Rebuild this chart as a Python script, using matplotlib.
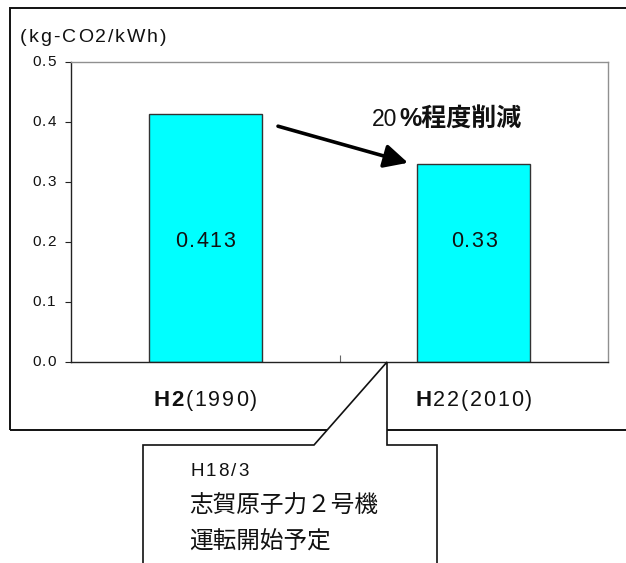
import matplotlib
matplotlib.use("Agg")
import matplotlib.pyplot as plt
from matplotlib.patches import Rectangle, Polygon
from matplotlib.offsetbox import TextArea, HPacker, AnnotationBbox

plt.rcParams['font.family'] = ['Liberation Sans', 'Noto Sans CJK JP', 'DejaVu Sans']

# ---- data ----
categories_bold = ["H2", "H"]
categories_regular = ["(1990)", "22(2010)"]
values = [0.413, 0.33]
value_labels = ["0.413", "0.33"]
yticks = [0.0, 0.1, 0.2, 0.3, 0.4, 0.5]
ytick_labels = ["0.0", "0.1", "0.2", "0.3", "0.4", "0.5"]
unit_label = "(kg-CO2/kWh)"
reduction_regular = "20"
reduction_bold = "%程度削減"
note_lines = ["H18/3", "志賀原子力２号機", "運転開始予定"]

W, H = 626, 563
fig = plt.figure(figsize=(W / 100, H / 100), dpi=100)
TXT = "#111111"


def fx(x):
    return x / W


def fy(y):
    return 1 - y / H


def spaced(parts, sep):
    """parts: list of (string, fontsize, weight); characters packed with letter spacing."""
    kids = []
    for s, fs, w in parts:
        for ch in s:
            kids.append(TextArea(ch, textprops=dict(fontsize=fs, fontweight=w, color=TXT)))
    return HPacker(children=kids, align="baseline", pad=0, sep=sep)


# plot area
ax = fig.add_axes([fx(71), fy(362), fx(608) - fx(71), fy(62) - fy(362)])
x = list(range(len(values)))
ax.bar(x, values, width=0.42, color="#00FFFF", edgecolor="#333333", linewidth=1.0, zorder=2)
ax.set_xlim(-0.5, len(values) - 0.5)
ax.set_ylim(0, 0.5)
ax.set_yticks(yticks)
ax.set_yticklabels([""] * len(yticks))
ax.tick_params(axis="y", direction="out", length=4, width=0.8, colors="#222222")
for yv, lab in zip(yticks, ytick_labels):
    ab = AnnotationBbox(spaced([(lab, 11, "normal")], 0.8), (0, yv),
                        xycoords=("axes fraction", "data"), xybox=(-11, 0),
                        boxcoords="offset points", frameon=False, pad=0,
                        box_alignment=(1, 0.5), annotation_clip=False)
    ax.add_artist(ab)
ax.set_xticks([0.5])
ax.set_xticklabels([""])
ax.tick_params(axis="x", direction="in", length=5, width=0.8, color="#666666")
for s in ["top", "right"]:
    ax.spines[s].set_color("#909090")
    ax.spines[s].set_linewidth(1.0)
for s in ["left", "bottom"]:
    ax.spines[s].set_color("#222222")
    ax.spines[s].set_linewidth(1.0)

# value labels inside bars
for xi, lab in zip(x, value_labels):
    ab = AnnotationBbox(spaced([(lab, 15.5, "normal")], 1.0), (xi, 0.201),
                        xycoords="data", frameon=False, pad=0,
                        box_alignment=(0.5, 0.5), annotation_clip=False, zorder=3)
    ax.add_artist(ab)

# category labels with mixed weight
for xi, b, r in zip(x, categories_bold, categories_regular):
    pack = spaced([(b, 16, "bold"), (r, 15.5, "normal")], 1.3)
    ab = AnnotationBbox(pack, (xi, 0), xybox=(0, -28), xycoords="data",
                        boxcoords="offset points", frameon=False, pad=0,
                        box_alignment=(0.5, 0.5), annotation_clip=False)
    ax.add_artist(ab)

# reduction arrow
ax.annotate("", xy=(0.755, 0.332), xytext=(0.271, 0.393),
            arrowprops=dict(arrowstyle="-|>,head_length=0.6,head_width=0.3",
                            mutation_scale=24, lw=2.6, color="black",
                            shrinkA=0, shrinkB=0), zorder=4)

t1 = TextArea(reduction_regular, textprops=dict(fontsize=16.5, color=TXT))
t2 = TextArea(reduction_bold, textprops=dict(fontsize=18, fontweight="bold", color=TXT))
pack2 = HPacker(children=[t1, t2], align="baseline", pad=0, sep=1.5)
ab2 = AnnotationBbox(pack2, (fx(372), fy(119)), xycoords="figure fraction",
                     frameon=False, pad=0, box_alignment=(0, 0.5), annotation_clip=False)
fig.add_artist(ab2)

# unit label
ab3 = AnnotationBbox(spaced([(unit_label, 14, "normal")], 1.4), (fx(20), fy(37)),
                     xycoords="figure fraction", frameon=False, pad=0,
                     box_alignment=(0, 0.5), annotation_clip=False)
fig.add_artist(ab3)

# outer frame
fig.add_artist(Rectangle((fx(10), fy(430)), fx(700) - fx(10), fy(8) - fy(430),
                         transform=fig.transFigure, fill=False, edgecolor=TXT,
                         linewidth=1.4, zorder=1))

# callout box
pts = [(143, 600), (143, 445), (314, 445), (387, 362), (387, 445), (437, 445), (437, 600)]
fig.add_artist(Polygon([(fx(a), fy(b)) for a, b in pts], closed=True,
                       transform=fig.transFigure, facecolor="white",
                       edgecolor=TXT, linewidth=1.2, zorder=5))

ab4 = AnnotationBbox(spaced([(note_lines[0], 13.5, "normal")], 1.5), (fx(190), fy(471)),
                     xycoords="figure fraction", frameon=False, pad=0,
                     box_alignment=(0, 0.5), annotation_clip=False)
ab4.set_zorder(6)
fig.add_artist(ab4)
fig.text(fx(189), fy(507), note_lines[1], ha="left", va="center", fontsize=17,
         color=TXT, zorder=6)
fig.text(fx(189), fy(542), note_lines[2], ha="left", va="center", fontsize=17,
         color=TXT, zorder=6)

fig.savefig("out.png", dpi=100)
